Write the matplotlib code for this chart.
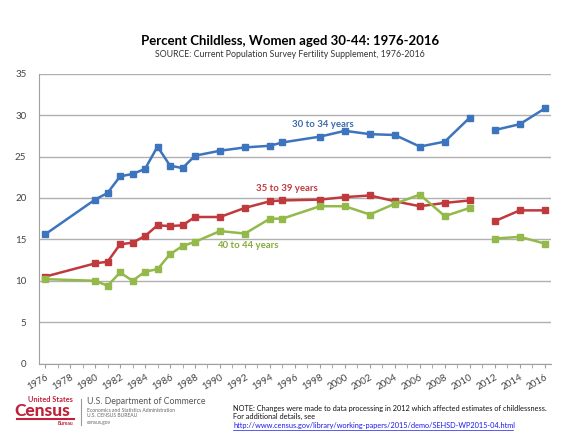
import numpy as np
import matplotlib
matplotlib.use('Agg')
import matplotlib.pyplot as plt

plt.rcParams['font.family'] = ['Lato', 'DejaVu Sans']

# Survey years (CPS Fertility Supplement)
years = [1976, 1980, 1981, 1982, 1983, 1984, 1985, 1986, 1987, 1988, 1990, 1992,
         1994, 1995, 1998, 2000, 2002, 2004, 2006, 2008, 2010, 2012, 2014, 2016]

# Percent childless by age group
age_30_34 = [15.6, 19.8, 20.6, 22.6, 22.9, 23.5, 26.2, 23.9, 23.6, 25.1, 25.7, 26.1,
             26.3, 26.7, 27.4, 28.1, 27.7, 27.6, 26.2, 26.8, 29.7, 28.2, 28.9, 30.8]
age_35_39 = [10.5, 12.1, 12.3, 14.4, 14.6, 15.4, 16.7, 16.6, 16.7, 17.7, 17.7, 18.8,
             19.6, 19.7, 19.8, 20.1, 20.3, 19.6, 19.0, 19.4, 19.7, 17.2, 18.5, 18.5]
age_40_44 = [10.2, 10.0, 9.4, 11.0, 10.0, 11.1, 11.4, 13.2, 14.2, 14.7, 16.0, 15.7,
             17.5, 17.5, 19.0, 19.0, 18.0, 19.3, 20.4, 17.8, 18.8, 15.1, 15.3, 14.5]

series = [
    ('30 to 34 years', age_30_34, '#3c74bd', '#3c6bab', (1995.8, 28.9)),
    ('35 to 39 years', age_35_39, '#c0393d', '#c0393d', (1992.9, 21.2)),
    ('40 to 44 years', age_40_44, '#93b94a', '#86ab3c', (1989.8, 14.2)),
]
# data processing changed in 2012 -> break the lines there
break_year = 2012

fig = plt.figure(figsize=(5.8, 4.36), dpi=100)
ax = fig.add_axes([0.067, 0.166, 0.883, 0.665])

yrs = np.array(years)
for name, vals, col, tcol, pos in series:
    vals = np.array(vals)
    before = yrs < break_year
    for mask in (before, ~before):
        ax.plot(yrs[mask], vals[mask], color=col, lw=1.8, marker='s',
                markersize=5, markeredgecolor=col, zorder=3)
    ax.text(pos[0], pos[1], name, color=tcol, fontsize=6.9, fontweight='bold',
            va='center', ha='left')

ax.set_xlim(1975.5, 2016.5)
ax.set_ylim(0, 35)
ax.set_yticks(range(0, 36, 5))
ax.set_xticks(range(1976, 2017, 2))
ax.set_xticks(range(1976, 2017, 1), minor=True)
ax.grid(axis='y', color='#b0b0b0', lw=1)
ax.set_axisbelow(True)
for s in ('top', 'right'):
    ax.spines[s].set_visible(False)
ax.spines['left'].set_color('#a0a0a0')
ax.spines['bottom'].set_color('#a0a0a0')
ax.tick_params(axis='y', length=0, labelsize=7, labelcolor='#444444', pad=9)
ax.tick_params(axis='x', which='both', length=3, color='#a0a0a0', labelsize=7,
               labelcolor='#444444')
plt.setp(ax.get_xticklabels(), rotation=30, ha='right', rotation_mode='anchor')

# titles
fig.text(0.5, 0.906, 'Percent Childless, Women aged 30-44: 1976-2016',
         ha='center', va='center', fontsize=9.5, fontweight='bold')
fig.text(0.5, 0.876, 'SOURCE: Current Population Survey Fertility Supplement, 1976-2016',
         ha='center', va='center', fontsize=6.3, color='#333333')

# Census logo block (text only)
red = '#c0213a'
fig.text(0.048, 0.084, 'United States', color=red, fontsize=5.3, fontweight='bold',
         va='center')
fig.text(0.024, 0.057, 'Census', color=red, fontsize=12.5, fontweight='black',
         va='center')
fig.add_artist(plt.Line2D([0.029, 0.128], [0.039, 0.039], color=red, lw=1.5))
fig.text(0.100, 0.029, 'Bureau', color=red, fontsize=3.5, fontweight='bold',
         va='center')
fig.add_artist(plt.Line2D([0.140, 0.140], [0.025, 0.085], color='#999999', lw=0.8))
fig.text(0.150, 0.078, 'U.S. Department of Commerce', color='#555555', fontsize=6.3,
         va='center')
fig.text(0.150, 0.058, 'Economics and Statistics Administration', color='#666666',
         fontsize=3.6, va='center')
fig.text(0.150, 0.046, 'U.S. CENSUS BUREAU', color='#666666', fontsize=3.6, va='center')
fig.text(0.150, 0.031, 'census.gov', color='#666666', fontsize=3.6, va='center')

# note
fig.text(0.402, 0.064, 'NOTE: Changes were made to data processing in 2012 which affected '
         'estimates of childlessness.', fontsize=5.3, color='#111111', va='center')
fig.text(0.402, 0.044, 'For additional details, see', fontsize=5.3, color='#111111',
         va='center')
fig.text(0.402, 0.023,
         'http://www.census.gov/library/working-papers/2015/demo/SEHSD-WP2015-04.html',
         fontsize=5.3, color='#1a1aee', va='center')
fig.add_artist(plt.Line2D([0.402, 0.885], [0.013, 0.013], color='#1a1aee', lw=0.5))

fig.savefig('out.png', dpi=100)
